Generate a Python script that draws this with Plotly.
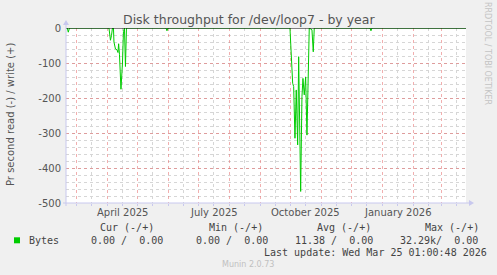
import plotly.graph_objects as go

# ---------------- data ----------------
dates = [
    "2025-02-18 01:00", "2025-02-19 08:00", "2025-02-20 08:00", "2025-02-21 12:00",
    "2025-04-02 00:00", "2025-04-03 12:00", "2025-04-04 12:00", "2025-04-05 12:00",
    "2025-04-06 12:00", "2025-04-07 00:00", "2025-04-08 12:00", "2025-04-10 00:00",
    "2025-04-11 00:00", "2025-04-11 16:00", "2025-04-12 12:00", "2025-04-14 00:00",
    "2025-04-15 12:00", "2025-04-16 12:00", "2025-04-17 12:00", "2025-04-18 12:00",
    "2025-04-19 12:00",
    "2025-05-29 00:00", "2025-05-30 00:00", "2025-05-31 00:00",
    "2025-09-30 00:00", "2025-10-02 17:00", "2025-10-03 17:00", "2025-10-05 00:00",
    "2025-10-06 07:00", "2025-10-07 17:00", "2025-10-08 17:00", "2025-10-10 00:00",
    "2025-10-10 17:00", "2025-10-12 00:00", "2025-10-13 00:00", "2025-10-14 07:00",
    "2025-10-15 17:00", "2025-10-17 00:00", "2025-10-18 07:00", "2025-10-19 07:00",
    "2025-10-22 00:00", "2025-10-23 07:00", "2025-10-24 07:00",
    "2025-12-19 00:00", "2025-12-20 00:00", "2025-12-21 00:00",
    "2026-03-25 01:00",
]
read_bytes = [
    0, 0, -12, 0,
    0, -35, -22, 0,
    0, -40, -60, -62,
    -70, -45, -75, -175,
    -100, -10, 0, -110,
    0,
    0, -8, 0,
    0, -158, -167, -315,
    -177, -334, -82, -263,
    -467, -196, -144, -191,
    -140, -306, -101, 0,
    -5, -68, 0,
    0, -8, 0,
    0,
]

x_range = ["2025-02-18 01:00", "2026-03-25 01:00"]
month_starts = ["2025-03-01", "2025-04-01", "2025-05-01", "2025-06-01", "2025-07-01",
                "2025-08-01", "2025-09-01", "2025-10-01", "2025-11-01", "2025-12-01",
                "2026-01-01", "2026-02-01", "2026-03-01"]
label_dates = ["2025-04-16", "2025-07-16", "2025-10-16", "2026-01-16"]
label_texts = ["April 2025", "July 2025", "October 2025", "January 2026"]
y_ticks = [0, -100, -200, -300, -400, -500]
y_ticktext = ["0", "-100", "-200", "-300", "-400", "-500"]

legend_headers = ["Cur (-/+)", "Min (-/+)", "Avg (-/+)", "Max (-/+)"]
legend_values = ["0.00 /  0.00", "0.00 /  0.00", "11.38 /  0.00", "32.29k/  0.00"]
series_name = "Bytes"
last_update = "Last update: Wed Mar 25 01:00:48 2026"

# ---------------- layout geometry ----------------
W, H = 497, 275
L, T, R, B = 66, 28, 466, 203
PW, PH = R - L, B - T


def px(x):
    return (x - L) / PW


def py(y):
    return 1 - (y - T) / PH


GREEN = "#00cc00"
TXT = "#555555"
FONT = "DejaVu Sans"
MONO = "DejaVu Sans Mono"

fig = go.Figure()
fig.add_trace(go.Scatter(x=dates, y=read_bytes, mode="lines",
                         line=dict(color=GREEN, width=1), showlegend=False,
                         hoverinfo="skip"))

annotations = []
annotations.append(dict(text="Disk throughput for /dev/loop7 - by year", x=px(248.5), y=py(19),
                        xref="paper", yref="paper", showarrow=False,
                        font=dict(family=FONT, size=12.5, color=TXT),
                        xanchor="center", yanchor="middle"))
annotations.append(dict(text="Pr second read (-) / write (+)", x=px(10), y=py(114),
                        xref="paper", yref="paper", showarrow=False, textangle=-90,
                        font=dict(family=FONT, size=10, color=TXT),
                        xanchor="center", yanchor="middle"))
annotations.append(dict(text="RRDTOOL / TOBI OETIKER", x=px(487), y=py(53),
                        xref="paper", yref="paper", showarrow=False, textangle=90,
                        font=dict(family=FONT, size=8, color="#c4c4c4"),
                        xanchor="center", yanchor="middle"))
for d, t in zip(label_dates, label_texts):
    annotations.append(dict(text=t, x=d, y=py(212), xref="x", yref="paper", showarrow=False,
                            font=dict(family=FONT, size=10, color=TXT),
                            xanchor="center", yanchor="middle"))

nb = lambda s: s.replace(" ", "\u00a0")
header_x = [98, 206.7, 315, 422.7]
value_x = [89.3, 194.3, 293.3, 398.3]
for hx, h in zip(header_x, legend_headers):
    annotations.append(dict(text=nb(h), x=px(hx), y=py(227.5), xref="paper", yref="paper",
                            showarrow=False, font=dict(family=MONO, size=10, color="#444"),
                            xanchor="left", yanchor="middle"))
for vx, v in zip(value_x, legend_values):
    annotations.append(dict(text=nb(v), x=px(vx), y=py(240), xref="paper", yref="paper",
                            showarrow=False, font=dict(family=MONO, size=10, color="#444"),
                            xanchor="left", yanchor="middle"))
annotations.append(dict(text=series_name, x=px(26.7), y=py(240), xref="paper", yref="paper",
                        showarrow=False, font=dict(family=MONO, size=10, color="#444"),
                        xanchor="left", yanchor="middle"))
annotations.append(dict(text=nb(last_update), x=px(261.7), y=py(252), xref="paper",
                        yref="paper", showarrow=False,
                        font=dict(family=MONO, size=10, color="#444"),
                        xanchor="left", yanchor="middle"))
annotations.append(dict(text="Munin 2.0.73", x=px(248), y=py(264), xref="paper", yref="paper",
                        showarrow=False, font=dict(family=FONT, size=8, color="#c0c0c0"),
                        xanchor="center", yanchor="middle"))

AXIS = "#c8c8ee"
shapes = [
    dict(type="line", xref="paper", yref="y", x0=0, x1=1, y0=0, y1=0,
         line=dict(color="black", width=1), layer="above"),
    dict(type="line", xref="paper", yref="paper", x0=px(63), x1=px(470), y0=0, y1=0,
         line=dict(color=AXIS, width=1), layer="above"),
    dict(type="path", xref="paper", yref="paper",
         path=f"M {px(469)},{py(200)} L {px(474)},{py(203)} L {px(469)},{py(206)} Z",
         fillcolor=AXIS, line=dict(width=0), layer="above"),
    dict(type="line", xref="paper", yref="paper", x0=0, x1=0, y0=py(206), y1=py(24),
         line=dict(color=AXIS, width=1), layer="above"),
    dict(type="path", xref="paper", yref="paper",
         path=f"M {px(63)},{py(25)} L {px(66)},{py(20)} L {px(69)},{py(25)} Z",
         fillcolor=AXIS, line=dict(width=0), layer="above"),
    dict(type="rect", xref="paper", yref="paper", x0=px(14), x1=px(20), y0=py(243.3),
         y1=py(237.3), fillcolor=GREEN, line=dict(width=0)),
]

fig.update_layout(
    width=W, height=H,
    margin=dict(l=L, r=W - R, t=T, b=H - B),
    paper_bgcolor="#f0f0f0", plot_bgcolor="white",
    showlegend=False,
    annotations=annotations,
    shapes=shapes,
    xaxis=dict(type="date", range=x_range, tickmode="array", tickvals=month_starts,
               showticklabels=False, showgrid=True,
               gridcolor="rgba(230,110,110,0.55)", griddash="dot", gridwidth=1,
               ticks="outside", ticklen=2, tickcolor=AXIS,
               minor=dict(dtick="M1", tick0="2025-01-16", showgrid=True,
                          gridcolor="#d6d6d6", griddash="dot", ticks="outside",
                          ticklen=2, tickcolor=AXIS),
               zeroline=False, showline=False, fixedrange=True),
    yaxis=dict(range=[-500, 0], tickmode="array", tickvals=y_ticks, ticktext=y_ticktext,
               tickfont=dict(family=FONT, size=10, color=TXT),
               showgrid=True, gridcolor="rgba(230,110,110,0.55)", griddash="dot",
               minor=dict(dtick=20, showgrid=True, gridcolor="#d6d6d6", griddash="dot"),
               zeroline=False, showline=False, ticks="", ticklabelstandoff=4,
               fixedrange=True),
)

fig.write_html("out.html")
